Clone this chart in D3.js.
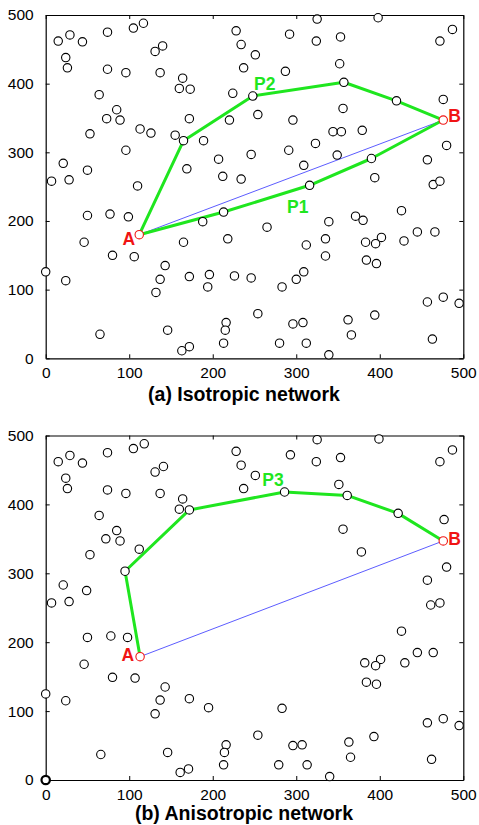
<!DOCTYPE html>
<html>
<head>
<meta charset="utf-8">
<script src="https://cdn.jsdelivr.net/npm/d3@7"></script>
<style>
  html, body { margin: 0; padding: 0; background: #fff; }
  svg { display: block; font-family: "Liberation Sans", Arial, sans-serif; }
</style>
</head>
<body>
<svg id="chart" width="479" height="825"></svg>
<script>
// ---------------- data ----------------
const tickValues = [0, 100, 200, 300, 400, 500];

const isoNodes = [
  [15,462],[29,471],[44,461],[24,438],[26,423],[74,475],[105,481],[117,488],[74,421],[96,416],
  [131,447],[140,455],[137,416],[64,384],[164,408],[160,393],[173,392],[85,362],[73,349],[89,347],
  [172,349],[113,334],[126,328],[53,327],[155,325],[165,317],[189,317],[96,303],[21,284],[50,274],
  [7,258],[28,260],[110,251],[169,276],[207,290],[212,265],[234,261],[228,477],[234,457],[237,423],
  [224,386],[220,347],
  [251,442],[292,472],[325,494],[324,462],[353,468],[398,496],[287,418],[352,429],[472,462],[487,479],
  [248,382],[357,402],[420,375],[476,377],[254,355],[296,347],[356,364],[344,330],[354,330],[379,332],
  [323,313],[291,303],[246,297],[349,296],[309,281],[390,291],[457,289],[480,310],[316,252],[394,263],
  [464,253],[472,258],
  [50,208],[77,210],[99,206],[46,169],[80,150],[106,148],[165,169],[188,199],[213,213],[218,174],
  [0,126],[24,113],[143,135],[137,115],[132,96],[172,119],[196,122],[194,104],[226,120],[65,35],
  [146,41],[163,11],[172,17],[216,52],[215,41],[213,22],
  [265,191],[339,199],[371,207],[380,201],[426,215],[445,184],[466,184],[429,171],[402,176],[395,167],
  [383,169],[335,174],[312,165],[335,149],[384,143],[396,138],[246,117],[283,104],[300,115],[309,126],
  [457,82],[476,89],[495,80],[254,65],[296,50],[308,52],[362,56],[394,63],[366,34],[280,22],
  [312,22],[339,5],[463,28]
];

const anisoNodes = [
  [15,462],[29,471],[44,460],[24,438],[26,423],[74,475],[105,481],[118,488],[74,421],[96,416],
  [131,447],[141,455],[137,416],[64,384],[164,408],[160,393],[172,392],[85,362],[72,350],[89,347],
  [112,335],[53,327],[95,303],[21,283],[49,275],[7,257],[28,259],[228,477],[234,457],[237,423],
  [251,442],[293,472],[325,494],[324,462],[353,468],[399,495],[286,418],[351,429],[361,413],[472,462],
  [487,479],[422,387],[477,378],[356,364],[378,331],[457,290],[480,309],[461,254],[472,257],
  [50,207],[78,209],[98,207],[46,168],[80,149],[107,148],[0,125],[24,115],[143,135],[137,116],
  [131,96],[172,118],[195,105],[66,37],[146,40],[161,11],[171,16],[216,51],[214,40],[213,22],
  [426,216],[445,185],[464,185],[430,170],[401,175],[395,166],[382,170],[384,142],[396,139],[283,104],
  [457,83],[476,89],[495,79],[254,65],[296,50],[307,51],[363,55],[393,63],[365,33],[279,22],
  [313,22],[340,5],[462,30]
];
const anisoOrigin = [[0,0]];

const isoSource = [112,180], isoTarget = [476,347];
const anisoSource = [113,179], anisoTarget = [476,347];

const pathP1 = [[112,180],[213,213],[316,252],[390,291],[476,347]];
const pathP2 = [[112,180],[165,317],[248,382],[357,402],[420,375],[476,347]];
const pathP3 = [[113,179],[95,303],[172,392],[286,418],[361,413],[422,387],[476,347]];

const isoPathLabels = [{text:"P1", at:[289,211]}, {text:"P2", at:[249.5,391]}];
const anisoPathLabels = [{text:"P3", at:[259.4,426.7]}];

const titles = ["(a) Isotropic network", "(b) Anisotropic network"];

// ---------------- drawing ----------------
const svg = d3.select("#chart");
const GREEN = "#1fe61f", BLUE = "#4a4aff", RED = "#f01414";
const R = 4.2;

const x = d3.scaleLinear().domain([0, 500]).range([45.7, 463.3]);

function panel(cfg) {
  const y = d3.scaleLinear().domain([0, 500]).range([cfg.bottom, cfg.top]);
  const g = svg.append("g");

  // axes
  const ax = g.append("g").attr("transform", `translate(0,${cfg.bottom})`)
    .call(d3.axisBottom(x).tickValues(tickValues).tickSizeInner(-4).tickSizeOuter(0).tickPadding(9));
  const ay = g.append("g").attr("transform", `translate(${x(0)},0)`)
    .call(d3.axisLeft(y).tickValues(tickValues).tickSizeInner(-4).tickSizeOuter(0).tickPadding(12));
  const at = g.append("g").attr("transform", `translate(0,${cfg.top})`)
    .call(d3.axisTop(x).tickValues(tickValues).tickSizeInner(-4).tickSizeOuter(0).tickFormat(""));
  const ar = g.append("g").attr("transform", `translate(${x(500)},0)`)
    .call(d3.axisRight(y).tickValues(tickValues).tickSizeInner(-4).tickSizeOuter(0).tickFormat(""));
  [ax, ay, at, ar].forEach(a => {
    a.selectAll("text").attr("font-size", 15.5).attr("fill", "#000")
      .attr("font-family", "'Liberation Sans', Arial, sans-serif");
    a.select(".domain").attr("stroke", "#000").attr("stroke-width", 1.2);
    a.selectAll(".tick line").attr("stroke", "#000");
  });

  const line = d3.line().x(d => x(d[0])).y(d => y(d[1]));

  // direct line A-B
  g.append("path").datum([cfg.source, cfg.target]).attr("d", line)
    .attr("fill", "none").attr("stroke", BLUE).attr("stroke-width", 0.9);

  // routed paths
  cfg.paths.forEach(p => {
    g.append("path").datum(p).attr("d", line)
      .attr("fill", "none").attr("stroke", GREEN).attr("stroke-width", 3)
      .attr("stroke-linejoin", "round");
  });

  // nodes
  g.selectAll("circle.node").data(cfg.nodes).join("circle")
    .attr("class", "node")
    .attr("cx", d => x(d[0])).attr("cy", d => y(d[1])).attr("r", R)
    .attr("fill", "#fff").attr("stroke", "#000").attr("stroke-width", 1.1);

  if (cfg.origin) {
    g.selectAll("circle.orig").data(cfg.origin).join("circle")
      .attr("class", "orig")
      .attr("cx", d => x(d[0])).attr("cy", d => y(d[1])).attr("r", R)
      .attr("fill", "#fff").attr("stroke", "#000").attr("stroke-width", 2.2);
  }

  // source / target
  g.selectAll("circle.st").data([cfg.source, cfg.target]).join("circle")
    .attr("class", "st")
    .attr("cx", d => x(d[0])).attr("cy", d => y(d[1])).attr("r", R)
    .attr("fill", "#fff").attr("stroke", RED).attr("stroke-width", 1.1);

  g.append("text").text("A")
    .attr("x", x(cfg.source[0]) + cfg.aOff[0]).attr("y", y(cfg.source[1]) + cfg.aOff[1])
    .attr("text-anchor", "end").attr("font-size", 17.5).attr("font-weight", "bold").attr("fill", RED);
  g.append("text").text("B")
    .attr("x", x(cfg.target[0]) + cfg.bOff[0]).attr("y", y(cfg.target[1]) + cfg.bOff[1])
    .attr("text-anchor", "start").attr("font-size", 17.5).attr("font-weight", "bold").attr("fill", RED);

  cfg.labels.forEach(l => {
    g.append("text").text(l.text)
      .attr("x", x(l.at[0])).attr("y", y(l.at[1]))
      .attr("font-size", 17.5).attr("font-weight", "bold").attr("fill", GREEN);
  });

  g.append("text").text(cfg.title)
    .attr("x", 244).attr("y", cfg.titleY)
    .attr("text-anchor", "middle").attr("font-size", 19.5).attr("font-weight", "bold").attr("fill", "#000");
}

panel({
  top: 15, bottom: 358.3, nodes: isoNodes, source: isoSource, target: isoTarget,
  paths: [pathP1, pathP2], labels: isoPathLabels, title: titles[0], titleY: 401,
  aOff: [-4, 10], bOff: [5, 2]
});
panel({
  top: 435.5, bottom: 780, nodes: anisoNodes, origin: anisoOrigin, source: anisoSource, target: anisoTarget,
  paths: [pathP3], labels: anisoPathLabels, title: titles[1], titleY: 819.5,
  aOff: [-6, 4.5], bOff: [5, 4]
});
</script>
</body>
</html>
